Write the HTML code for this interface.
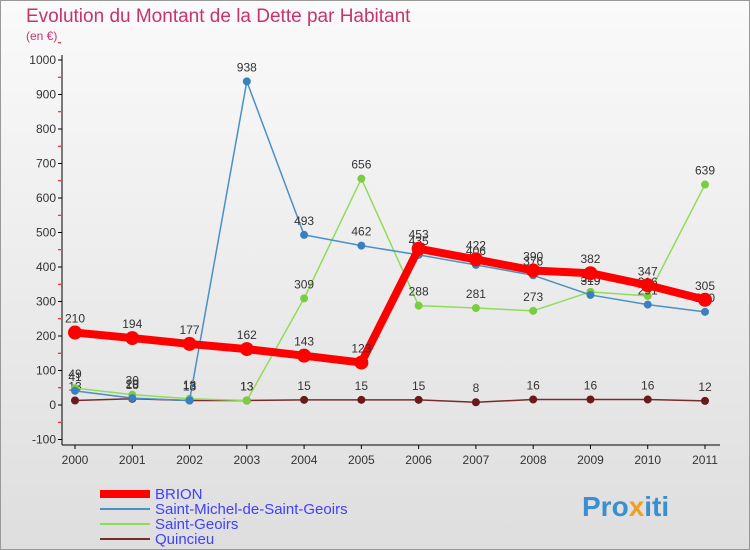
<!DOCTYPE html>
<html><head><meta charset="utf-8"><style>
body{margin:0;background:#fff;}
svg{display:block;font-family:"Liberation Sans",sans-serif;}
</style></head><body>
<svg id="c" width="750" height="550">
<defs><linearGradient id="bg" x1="0" y1="0" x2="0" y2="1"><stop offset="0" stop-color="#fafafa"/><stop offset="1" stop-color="#dedede"/></linearGradient></defs>
<rect x="0.5" y="0.5" width="749" height="549" fill="url(#bg)" stroke="#999"/>
<text x="26" y="22" font-size="19" fill="#c8336e">Evolution du Montant de la Dette par Habitant</text>
<text x="26" y="40" font-size="12" fill="#c8336e">(en €)</text>
<g id="axes"></g><g id="series"></g>
<g>
<line x1="100" y1="494" x2="150" y2="494" stroke="#f00" stroke-width="8"/><text x="155" y="499" font-size="15" fill="#4040ff">BRION</text>
<line x1="100" y1="509" x2="150" y2="509" stroke="#4a90c8" stroke-width="2"/><text x="155" y="514" font-size="15" fill="#4040ff">Saint-Michel-de-Saint-Geoirs</text>
<line x1="100" y1="524" x2="150" y2="524" stroke="#8fdc5a" stroke-width="2"/><text x="155" y="529" font-size="15" fill="#4040ff">Saint-Geoirs</text>
<line x1="100" y1="539" x2="150" y2="539" stroke="#7a2a2a" stroke-width="2"/><text x="155" y="544" font-size="15" fill="#4040ff">Quincieu</text>
</g>
<text x="582" y="516" font-size="28" font-weight="bold" fill="#3a8fd0">Pro<tspan fill="#f0a020">x</tspan>iti</text>
</svg>
<script>
const years=[2000,2001,2002,2003,2004,2005,2006,2007,2008,2009,2010,2011];
const brion=[210,194,177,162,143,123,453,422,390,382,347,305];
const stMichel=[41,20,13,938,493,462,435,406,376,319,291,270];
const stGeoirs=[49,30,18,13,309,656,288,281,273,328,316,639];
const quincieu=[13,18,13,13,15,15,15,8,16,16,16,12];
const yTicks=[-100,0,100,200,300,400,500,600,700,800,900,1000];
const NS="http://www.w3.org/2000/svg";
const X=i=>75+i*(630/11), Y=v=>405-v*0.345;
function mk(t,a,p){const e=document.createElementNS(NS,t);for(const k in a)e.setAttribute(k,a[k]);p.appendChild(e);return e;}
const ax=document.getElementById('axes');
let l=mk('line',{x1:62,y1:55,x2:62,y2:445,stroke:'#000'},ax);


l=mk('line',{x1:62,y1:445,x2:720,y2:445,stroke:'#000'},ax);


yTicks.forEach(v=>{mk('line',{x1:58,x2:62,y1:Y(v),y2:Y(v),stroke:'#000'},ax);
 mk('line',{x1:58,x2:61,y1:Y(v+50),y2:Y(v+50),stroke:'#e00'},ax);
 const t=mk('text',{x:56,y:Y(v)+4,'font-size':12,'text-anchor':'end',fill:'#333'},ax);t.textContent=v;
 
 });
years.forEach((y,i)=>{mk('line',{x1:X(i),x2:X(i),y1:445,y2:449,stroke:'#000'},ax);
 const t=mk('text',{x:X(i),y:464,'font-size':12,'text-anchor':'middle',fill:'#333'},ax);t.textContent=y;
 
 });
const sg=document.getElementById('series');
function series(d,col,w,r,name,dot){const g=mk('g',{},sg);
 
 
 mk('polyline',{points:d.map((v,i)=>X(i)+','+Y(v)).join(' '),fill:'none',stroke:col,'stroke-width':w,'stroke-linejoin':'round'},g);
 d.forEach((v,i)=>{const c=mk('circle',{cx:X(i),cy:Y(v),r:r,fill:dot},g);
  
  
  const t=mk('text',{x:X(i),y:Y(v)-10,'font-size':12,'text-anchor':'middle',fill:'#333'},g);t.textContent=v;
  
  });}
series(quincieu,'#7a2a2a',1.5,4,'series-quincieu','#6a1a1a');
series(stGeoirs,'#8fdc5a',1.5,4,'series-saint-geoirs','#7acc40');
series(stMichel,'#4a90c8',1.5,4,'series-saint-michel','#3a80c0');
series(brion,'#f00',8,7,'series-brion','#f00');
</script>
</body></html>
